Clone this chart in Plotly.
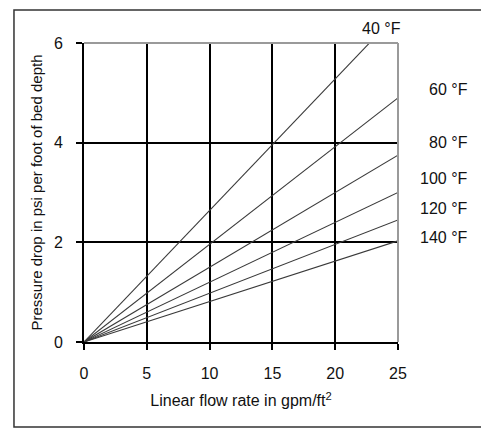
import plotly.graph_objects as go

flow_rate = [0, 25]
temperatures = ["40 °F", "60 °F", "80 °F", "100 °F", "120 °F", "140 °F"]
pressure_at_ends = [
    [0, 6.6],
    [0, 4.90],
    [0, 3.75],
    [0, 3.00],
    [0, 2.45],
    [0, 2.03],
]
# label positions (paper fractions of the plot area)
label_x = [1.015, 1.229, 1.229, 1.229, 1.229, 1.229]
label_y = [1.050, 0.843, 0.666, 0.548, 0.445, 0.348]

x_ticks = [0, 5, 10, 15, 20, 25]
y_ticks = [0, 2, 4, 6]

FONT = "Liberation Sans, Arial, sans-serif"

fig = go.Figure()
for name, ys in zip(temperatures, pressure_at_ends):
    fig.add_trace(go.Scatter(x=flow_rate, y=ys, mode="lines", name=name,
                             line=dict(color="#3a3a3a", width=1.1),
                             showlegend=False, hoverinfo="skip"))

for name, lx, ly in zip(temperatures, label_x, label_y):
    fig.add_annotation(x=lx, y=ly, xref="paper", yref="paper", text=name,
                       showarrow=False, font=dict(family=FONT, size=16, color="#111111"),
                       xanchor="right", yanchor="middle")

fig.update_layout(
    width=481, height=428,
    margin=dict(l=84, r=83, t=43, b=86),
    paper_bgcolor="white", plot_bgcolor="white",
    font=dict(family=FONT, size=16, color="#111111"),
    hovermode=False,
    xaxis=dict(range=[0, 25], tickvals=x_ticks, showgrid=True, gridcolor="black",
               gridwidth=2, showline=True, linecolor="black", linewidth=2,
               ticks="outside", ticklen=6, tickcolor="black", tickwidth=2,
               zeroline=False, ticklabelstandoff=10,
               title=dict(text="Linear flow rate in gpm/ft<sup>2</sup>", standoff=14,
                          font=dict(size=16))),
    yaxis=dict(range=[0, 6], tickvals=y_ticks, showgrid=True, gridcolor="black",
               gridwidth=2, showline=True, linecolor="black", linewidth=2,
               ticks="outside", ticklen=6, tickcolor="black", tickwidth=2,
               zeroline=False, ticklabelstandoff=10,
               title=dict(text="Pressure drop in psi per foot of bed depth", standoff=8,
                          font=dict(size=15))),
)

# gray top and right borders of the plot area
fig.add_shape(type="line", xref="paper", yref="paper", x0=0, x1=1, y0=1, y1=1,
              line=dict(color="#9a9a9a", width=2), layer="above")
fig.add_shape(type="line", xref="paper", yref="paper", x0=1, x1=1, y0=0, y1=1,
              line=dict(color="#9a9a9a", width=2), layer="above")
# outer frame (left, top, bottom; right side lies beyond the window)
fig.add_shape(type="path", xref="paper", yref="paper",
              path="M 1.4,-0.284 L -0.223,-0.284 L -0.223,1.110 L 1.4,1.110",
              line=dict(color="#333333", width=1.5), layer="below")

fig.write_html(
    "out.html",
    config={"displayModeBar": False, "staticPlot": True},
    post_script="document.body.style.margin='0';document.body.style.overflow='hidden';",
)
